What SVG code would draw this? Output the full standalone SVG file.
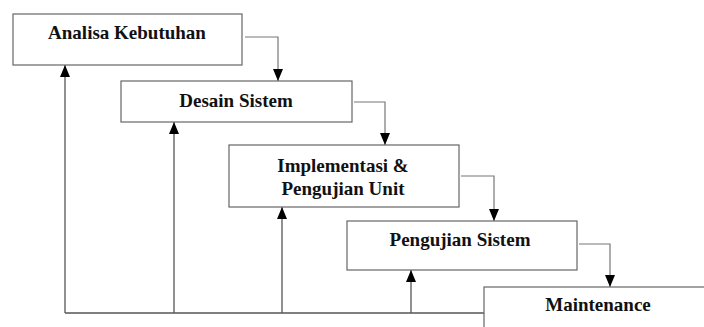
<svg xmlns="http://www.w3.org/2000/svg" width="704" height="327" viewBox="0 0 704 327">
<style>
.box{fill:#fff;stroke:#666;stroke-width:1.2}
.lbl{font-family:"Liberation Serif","Times New Roman",serif;font-weight:bold;font-size:19px;fill:#111;text-anchor:middle}
.con{fill:none;stroke:#777;stroke-width:1.2}
.fb{fill:none;stroke:#555;stroke-width:1.3}
</style>
<defs>
<marker id="ah" viewBox="0 0 12 10" refX="12" refY="5" markerWidth="12" markerHeight="10" markerUnits="userSpaceOnUse" orient="auto">
<path d="M0,0 L12,5 L0,10 Z" fill="#000"/>
</marker>
</defs>
<rect width="704" height="327" fill="#fff"/>
<g id="connectors">
<path class="con" d="M245,37 H278 V81" marker-end="url(#ah)"/>
<path class="con" d="M354,102 H385 V145" marker-end="url(#ah)"/>
<path class="con" d="M461,176 H494 V221" marker-end="url(#ah)"/>
<path class="con" d="M579,244 H610 V287" marker-end="url(#ah)"/>
<path class="fb" d="M484,313 H65"/>
<path class="fb" d="M65,313 V65" marker-end="url(#ah)"/>
<path class="fb" d="M174,313 V122" marker-end="url(#ah)"/>
<path class="fb" d="M282,313 V207" marker-end="url(#ah)"/>
<path class="fb" d="M411,313 V270" marker-end="url(#ah)"/>
</g>
<g id="n1">
<rect class="box" x="13" y="14" width="229" height="51"/>
<text class="lbl" x="127" y="39">Analisa Kebutuhan</text>
</g>
<g id="n2">
<rect class="box" x="121" y="81" width="231" height="41"/>
<text class="lbl" x="236" y="107">Desain Sistem</text>
</g>
<g id="n3">
<rect class="box" x="229" y="145" width="230" height="62"/>
<text class="lbl" x="343" y="172">Implementasi &amp;</text>
<text class="lbl" x="343" y="195">Pengujian Unit</text>
</g>
<g id="n4">
<rect class="box" x="347" y="221" width="230" height="49"/>
<text class="lbl" x="460" y="246">Pengujian Sistem</text>
</g>
<g id="n5">
<rect class="box" x="484" y="287" width="228" height="50"/>
<text class="lbl" x="598" y="311">Maintenance</text>
</g>
</svg>
